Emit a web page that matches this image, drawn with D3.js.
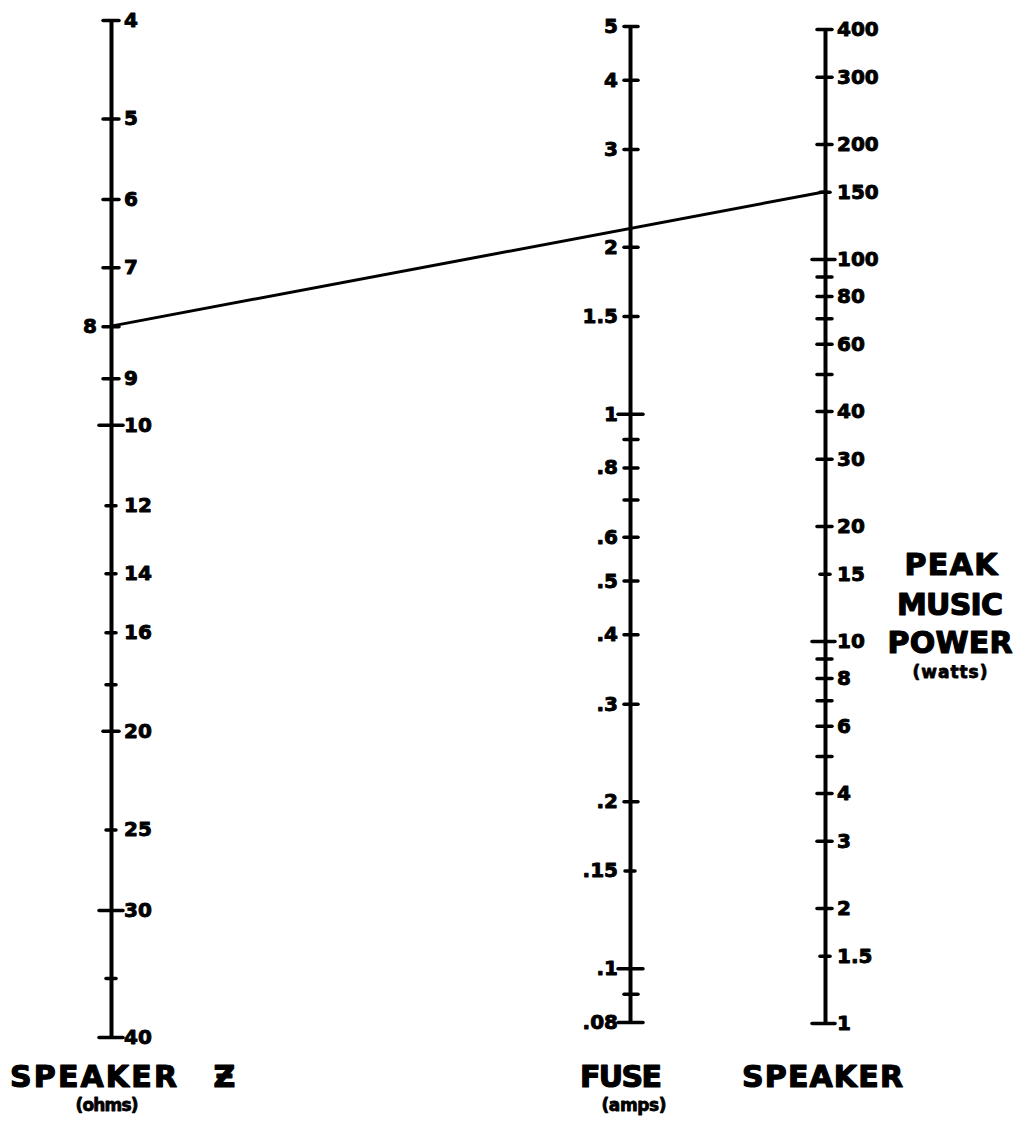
<!DOCTYPE html>
<html>
<head>
<meta charset="utf-8">
<script src="https://cdn.jsdelivr.net/npm/d3@7/dist/d3.min.js"></script>
<style>
  html, body { margin: 0; padding: 0; background: #fff; }
  svg { display: block; }
</style>
</head>
<body>
<svg id="chart" width="1023" height="1129"></svg>
<script>
// ---- data ----
const impedanceTicks = [4, 5, 6, 7, 8, 9, 10, 12, 14, 16, 18, 20, 25, 30, 35, 40];
const impedanceLabels = [4, 5, 6, 7, 8, 9, 10, 12, 14, 16, 20, 25, 30, 40];
const fuseTicks = [5, 4, 3, 2, 1.5, 1, 0.9, 0.8, 0.7, 0.6, 0.5, 0.4, 0.3, 0.2, 0.15, 0.1, 0.09, 0.08];
const fuseLabels = [5, 4, 3, 2, 1.5, 1, 0.8, 0.6, 0.5, 0.4, 0.3, 0.2, 0.15, 0.1, 0.08];
const powerTicks = [400, 300, 200, 150, 100, 90, 80, 70, 60, 50, 40, 30, 20, 15, 10, 9, 8, 7, 6, 5, 4, 3, 2, 1.5, 1];
const powerLabels = [400, 300, 200, 150, 100, 80, 60, 40, 30, 20, 15, 10, 8, 6, 4, 3, 2, 1.5, 1];
const exampleImpedance = 8;   // ohms
const examplePower = 150;     // watts

// ---- layout ----
const svg = d3.select("#chart");
const FONT = "DejaVu Sans";
const xZ = 111, xFuse = 630, xPower = 825;

const zScale = d3.scaleLog().domain([4, 40]).range([20, 1037]);
const fuseScale = d3.scaleLog().domain([5, 0.08]).range([26, 1022]);
const powerScale = d3.scaleLog().domain([400, 1]).range([29, 1023]);

const fmtZ = d => String(d);
const fmtFuse = d => (d < 1 ? String(d).replace(/^0/, "") : String(d));

function drawAxis(x, scale, ticks, labels, side, fmt, tickExtent, labelOffset) {
  const ax = (side === "right" ? d3.axisRight(scale) : d3.axisLeft(scale))
    .tickValues(ticks)
    .tickSizeInner(0)
    .tickSizeOuter(0)
    .tickPadding(labelOffset)
    .tickFormat(d => labels.includes(d) ? fmt(d) : "");
  const g = svg.append("g").attr("transform", `translate(${x},0)`).call(ax);
  g.attr("font-family", FONT).attr("font-size", 20).attr("font-weight", "bold");
  g.select(".domain").attr("stroke", "#000").attr("stroke-width", 4);
  g.selectAll(".tick line")
    .attr("stroke", "#000")
    .attr("stroke-width", 3.5)
    .attr("stroke-linecap", "round")
    .attr("x1", d => -tickExtent(d)[0])
    .attr("x2", d => tickExtent(d)[1]);
  g.selectAll(".tick text").attr("fill", "#000")
    .attr("stroke", "#000").attr("stroke-width", 0.9).attr("stroke-linejoin", "round");
  return g;
}

// Speaker impedance axis (left)
const zBig = new Set([10, 30, 40]), zSmall = new Set([12, 14, 16, 18, 25, 35]);
const gZ = drawAxis(xZ, zScale, impedanceTicks, impedanceLabels, "right", fmtZ,
  d => zBig.has(d) ? [12, 12] : zSmall.has(d) ? [5, 5] : [8, 8], 13);
gZ.selectAll(".tick text").filter(d => d === 8)
  .attr("x", -14).attr("text-anchor", "end");

// Fuse axis (middle)
const fBig = new Set([1, 0.1, 0.08]), fSmall = new Set([0.15]);
drawAxis(xFuse, fuseScale, fuseTicks, fuseLabels, "left", fmtFuse,
  d => fBig.has(d) ? [12, 13] : fSmall.has(d) ? [5, 5] : [6, 8], 12);

// Peak music power axis (right)
const pBig = new Set([100, 10, 1]), pSmall = new Set([150, 15, 1.5]);
drawAxis(xPower, powerScale, powerTicks, powerLabels, "right", fmtZ,
  d => pBig.has(d) ? [13, 10] : pSmall.has(d) ? [5, 5] : [8, 7], 12);

// Example solution line
const line = d3.line().x(d => d[0]).y(d => d[1]);
svg.append("path")
  .attr("d", line([[xZ, zScale(exampleImpedance)], [xPower, powerScale(examplePower)]]))
  .attr("fill", "none").attr("stroke", "#000").attr("stroke-width", 3).attr("stroke-linecap", "round");

// ---- titles ----
function title(x, y, txt, size, anchor, len) {
  const t = svg.append("text").attr("x", x).attr("y", y)
    .attr("font-family", FONT).attr("font-weight", "bold").attr("font-size", size)
    .attr("text-anchor", anchor).attr("fill", "#000")
    .attr("stroke", "#000").attr("stroke-width", size > 20 ? 1.2 : 0.8).attr("stroke-linejoin", "round")
    .text(txt);
  if (len) t.attr("textLength", len).attr("lengthAdjust", "spacing");
  return t;
}

const tz = svg.append("text").attr("x", 10).attr("y", 1087)
  .attr("font-family", FONT).attr("font-weight", "bold").attr("font-size", 30).attr("fill", "#000")
  .attr("stroke", "#000").attr("stroke-width", 1.2).attr("stroke-linejoin", "round");
tz.append("tspan").attr("x", 10).attr("textLength", 167).attr("lengthAdjust", "spacing").text("SPEAKER");
tz.append("tspan").attr("x", 212).text(" Ƶ").attr("dx", -9);
title(107, 1111, "(ohms)", 17, "middle", 63);

title(580, 1087, "FUSE", 30, "start", 82);
title(634, 1111, "(amps)", 17, "middle", 65);

title(742, 1087, "SPEAKER", 30, "start", 161);

title(951, 575, "PEAK", 30, "middle", 93);
title(950, 615, "MUSIC", 30, "middle", 106);
title(950, 653, "POWER", 30, "middle", 125);
title(950, 678, "(watts)", 17, "middle", 75);
</script>
</body>
</html>
